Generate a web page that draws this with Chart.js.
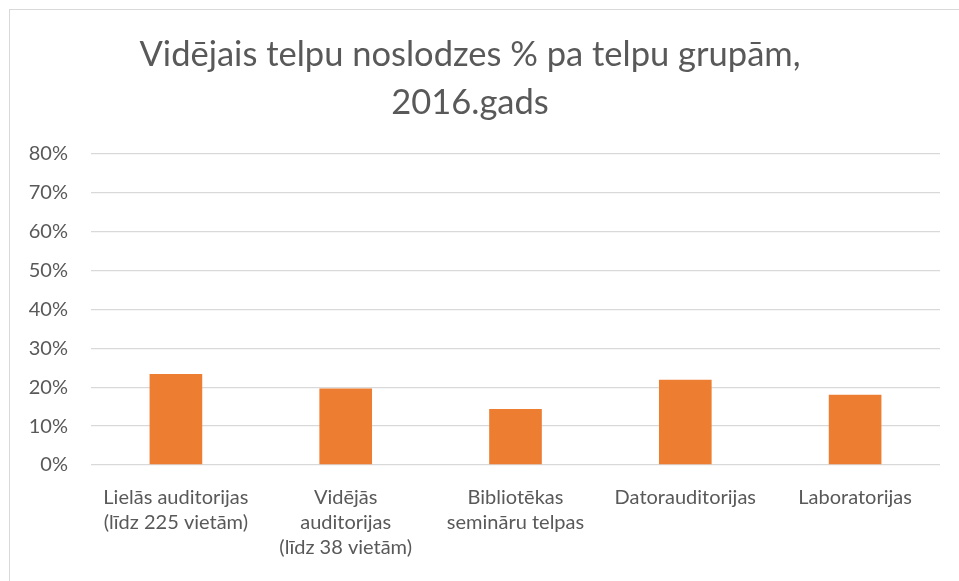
<!DOCTYPE html>
<html>
<head>
  <title>Vidējais telpu noslodzes %</title>
  <style>
    body {
      margin: 0;
      background: #fff;
      font-family: Lato, sans-serif;
    }
    #wrap {
      position: relative;
      width: 959px;
      height: 581px;
      overflow: hidden;
    }
    #frame {
      position: absolute;
      left: 9px;
      top: 9px;
      width: 1000px;
      height: 1000px;
      border-left: 1px solid #d9d9d9;
      border-top: 1px solid #d9d9d9;
    }
    canvas {
      position: absolute;
      left: 0;
      top: 0;
    }
  </style>
</head>
<body>
  <div id="wrap">
    <div id="frame"></div>
    <canvas id="chart" width="959" height="581"></canvas>
  </div>

  <script src="https://cdn.jsdelivr.net/npm/chart.js"></script>
  <script>
    const titleLines = ['Vidējais telpu noslodzes % pa telpu grupām,', '2016.gads'];
    const categories = [
      ['Lielās auditorijas', '(līdz 225 vietām)'],
      ['Vidējās', 'auditorijas', '(līdz 38 vietām)'],
      ['Bibliotēkas', 'semināru telpas'],
      ['Datorauditorijas'],
      ['Laboratorijas']
    ];
    const values = [23.4, 19.7, 14.4, 21.9, 18.1];
    const yTicks = [0, 10, 20, 30, 40, 50, 60, 70, 80];

    const textColor = '#595959';
    const gridColor = '#d9d9d9';

    const ctx = document.getElementById('chart').getContext('2d');
    const chart = new Chart(ctx, {
      type: 'bar',
      data: {
        labels: categories,
        datasets: [{
          label: 'Noslodze',
          data: values,
          backgroundColor: '#ED7D31',
          borderWidth: 0,
          categoryPercentage: 0.62,
          barPercentage: 0.5
        }]
      },
      options: {
        responsive: false,
        animation: false,
        layout: {
          padding: { left: 0, right: 19, top: 0, bottom: 0 }
        },
        plugins: {
          legend: { display: false },
          tooltip: { enabled: false },
          title: {
            display: true,
            text: titleLines,
            color: textColor,
            font: { family: 'Lato', size: 34.5, weight: 'normal', lineHeight: '48px' },
            padding: { top: 30.5, bottom: 27.5 }
          }
        },
        scales: {
          x: {
            grid: { display: false, drawTicks: false },
            border: { display: false },
            ticks: {
              color: textColor,
              font: { family: 'Lato', size: 20, lineHeight: '25px' },
              padding: 20.5,
              maxRotation: 0,
              autoSkip: false
            }
          },
          y: {
            min: 0,
            max: 80,
            afterBuildTicks: (scale) => {
              scale.ticks = yTicks.map(v => ({ value: v }));
            },
            afterFit: (scale) => {
              scale.width = 91;
            },
            grid: { color: gridColor, lineWidth: 1.3, drawTicks: false },
            border: { display: false },
            ticks: {
              color: textColor,
              font: { family: 'Lato', size: 20 },
              padding: 23,
              callback: (v) => v + '%'
            }
          }
        }
      }
    });
  </script>
</body>
</html>
